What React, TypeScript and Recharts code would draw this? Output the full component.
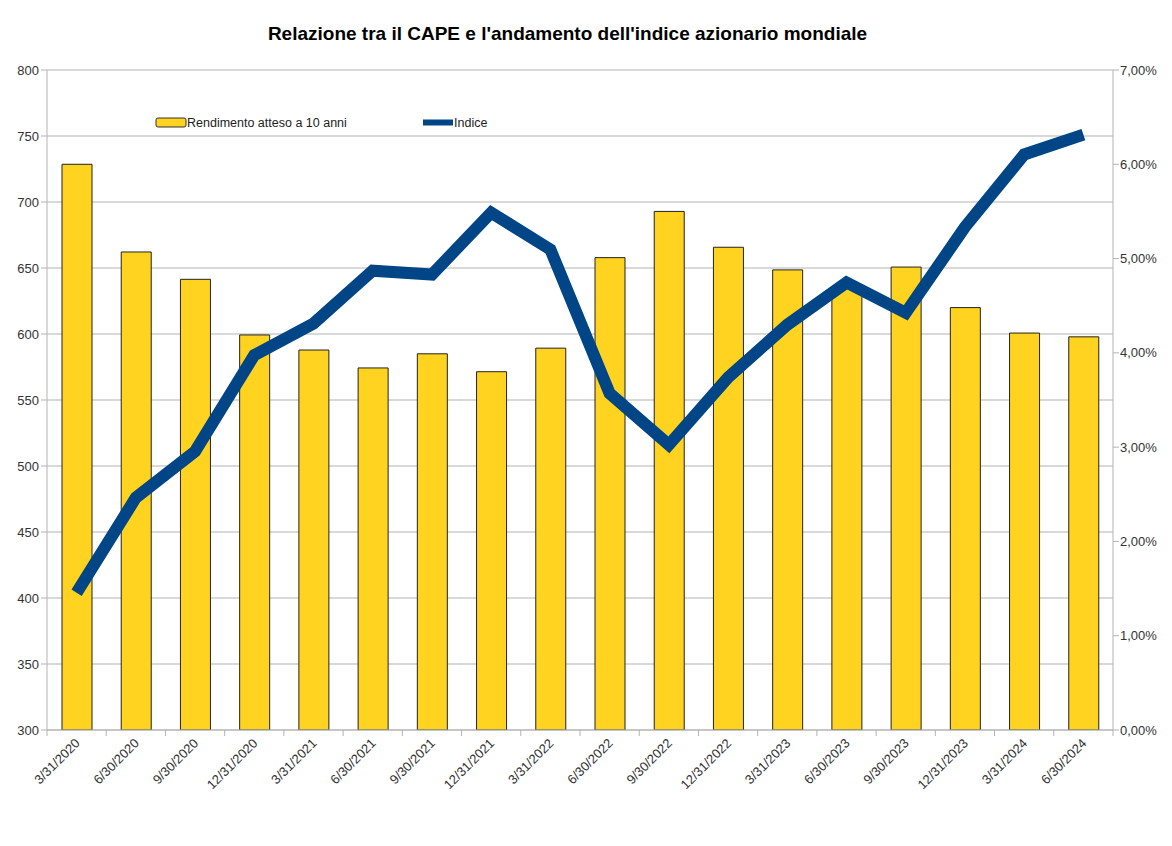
import React from "react";
import {
  ComposedChart,
  Bar,
  Line,
  XAxis,
  YAxis,
  CartesianGrid,
  Legend,
} from "recharts";

const categories = [
  "3/31/2020", "6/30/2020", "9/30/2020", "12/31/2020",
  "3/31/2021", "6/30/2021", "9/30/2021", "12/31/2021",
  "3/31/2022", "6/30/2022", "9/30/2022", "12/31/2022",
  "3/31/2023", "6/30/2023", "9/30/2023", "12/31/2023",
  "3/31/2024", "6/30/2024",
];
const rendimento = [
  6.0, 5.07, 4.78, 4.19, 4.03, 3.84, 3.99, 3.8, 4.05, 5.01, 5.5, 5.12, 4.88,
  4.7, 4.91, 4.48, 4.21, 4.17,
];
const indice = [
  404, 476, 511, 584, 608, 648, 645, 692, 664, 555, 516, 567, 607, 639, 616,
  681, 736, 751,
];
const leftTicks = [300, 350, 400, 450, 500, 550, 600, 650, 700, 750, 800];
const rightTicks = [0, 1, 2, 3, 4, 5, 6, 7];
const seriesNames = ["Rendimento atteso a 10 anni", "Indice"];

const data = categories.map((c, i) => ({
  date: c,
  rendimento: rendimento[i],
  indice: indice[i],
}));

const W = 1172;
const H = 846;
const LEFT_W = 47;
const RIGHT_W = 59;
const TOP = 70;
const XAXIS_H = 116;
const PLOT_W = W - LEFT_W - RIGHT_W;
const BAND = PLOT_W / categories.length;

const FONT = "'Liberation Sans', Arial, sans-serif";
const GRID = "#b3b3b3";
const YELLOW = "#ffd320";
const BLUE = "#004586";

const XTick = (props: any) => {
  const { x, y, payload, index } = props;
  const last = index === categories.length - 1;
  return (
    <g>
      <line x1={x - BAND / 2} x2={x - BAND / 2} y1={y} y2={y + 6} stroke={GRID} />
      {last && (
        <line x1={x + BAND / 2} x2={x + BAND / 2} y1={y} y2={y + 6} stroke={GRID} />
      )}
      <text
        x={x + 4}
        y={y + 14}
        textAnchor="end"
        transform={`rotate(-45, ${x + 4}, ${y + 14})`}
        fontSize={13}
        fontFamily={FONT}
        fill="#333"
      >
        {payload.value}
      </text>
    </g>
  );
};

const LegendContent = () => (
  <div style={{ height: 0, overflow: "visible" }}>
    <svg width={420} height={24} style={{ overflow: "visible", display: "block" }}>
      <rect x={1} y={2} width={30} height={9} rx={2} fill={YELLOW} stroke="#333" strokeWidth={1} />
      <text x={32} y={11} fontSize={12.5} fontFamily={FONT} fill="#222">
        {seriesNames[0]}
      </text>
      <rect x={268} y={3.5} width={30} height={6} fill={BLUE} />
      <text x={299} y={11} fontSize={12.5} fontFamily={FONT} fill="#222">
        {seriesNames[1]}
      </text>
    </svg>
  </div>
);

export default function App() {
  return (
    <div
      style={{
        position: "absolute",
        left: 0,
        top: 0,
        width: W,
        height: H,
        background: "#fff",
      }}
    >
      <div
        style={{
          position: "absolute",
          top: 23,
          left: 0,
          width: 1135,
          textAlign: "center",
          fontFamily: FONT,
          fontWeight: "bold",
          fontSize: 19,
          color: "#000",
        }}
      >
        Relazione tra il CAPE e l'andamento dell'indice azionario mondiale
      </div>
      <ComposedChart
        width={W}
        height={H}
        data={data}
        margin={{ top: TOP, right: 0, bottom: 0, left: 0 }}
      >
        <CartesianGrid
          yAxisId="left"
          vertical={false}
          stroke={GRID}
          strokeWidth={1}
        />
        <XAxis
          dataKey="date"
          interval={0}
          height={XAXIS_H}
          tickLine={false}
          tickSize={0}
          tickMargin={0}
          axisLine={{ stroke: GRID }}
          tick={<XTick />}
        />
        <YAxis
          yAxisId="left"
          orientation="left"
          width={LEFT_W}
          domain={[300, 800]}
          ticks={leftTicks}
          allowDataOverflow
          tickSize={6}
          tickMargin={2}
          axisLine={{ stroke: GRID }}
          tickLine={{ stroke: GRID }}
          tick={{ fontSize: 13, fontFamily: FONT, fill: "#333" }}
        />
        <YAxis
          yAxisId="right"
          orientation="right"
          width={RIGHT_W}
          domain={[0, 7]}
          ticks={rightTicks}
          allowDataOverflow
          tickSize={6}
          tickMargin={1}
          axisLine={{ stroke: GRID }}
          tickLine={{ stroke: GRID }}
          tick={{ fontSize: 13, fontFamily: FONT, fill: "#333" }}
          tickFormatter={(v: number) => v.toFixed(2).replace(".", ",") + "%"}
        />
        <Legend
          content={<LegendContent />}
          wrapperStyle={{ position: "absolute", top: 116, left: 155, width: 420, height: 0 }}
        />
        <Bar
          yAxisId="right"
          dataKey="rendimento"
          name={seriesNames[0]}
          fill={YELLOW}
          stroke="#222"
          strokeWidth={1}
          barSize={30}
          isAnimationActive={false}
        />
        <Line
          yAxisId="left"
          dataKey="indice"
          name={seriesNames[1]}
          stroke={BLUE}
          strokeWidth={12}
          dot={false}
          activeDot={false}
          strokeLinejoin="miter"
          isAnimationActive={false}
        />
      </ComposedChart>
    </div>
  );
}
